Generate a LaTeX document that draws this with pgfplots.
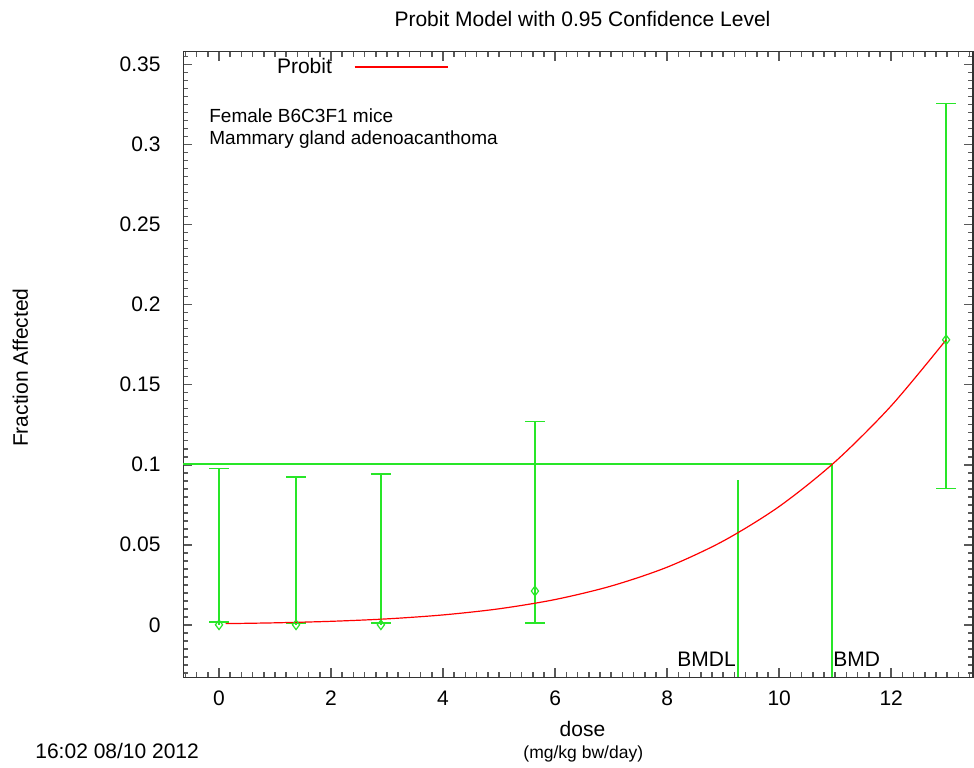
\documentclass[border=0pt]{standalone}
\usepackage{fontspec}
\setmainfont{Liberation Sans}
\usepackage{pgfplots}
\pgfplotsset{compat=1.18}
\definecolor{gpgreen}{RGB}{40,230,40}

\begin{document}
\begin{tikzpicture}[font=\fontsize{10.5bp}{12.6bp}\selectfont]
\begin{axis}[
  at={(0,0)}, anchor=south west,
  scale only axis, width=394.75bp, height=312.8bp,
  xmin=-0.634, xmax=13.46, ymin=-0.0328, ymax=0.358,
  xtick={0,2,4,6,8,10,12},
  ytick={0,0.05,0.1,0.15,0.2,0.25,0.3,0.35},
  minor xtick={-0.6,-0.4,...,13.45},
  minor ytick={-0.03,-0.025,...,0.356},
  xtick pos=both, ytick pos=both,
  tick align=inside, major tick length=4.5bp, minor tick length=2.5bp,
  xticklabel pos=left, yticklabel pos=left,
  axis line style={line width=0.8bp, black!80},
  tick style={line width=0.8bp, black!65},
  /pgf/number format/assume math mode=true,
  scaled y ticks=false,
  yticklabel={\pgfmathprintnumber[fixed,precision=2]{\tick}},
  xticklabel style={anchor=base, yshift=-14.1bp},
  yticklabel style={anchor=east, inner xsep=0pt, xshift=-11.25bp},
  legend style={at={(0.118,0.975)}, anchor=west, draw=none, fill=none,
    inner sep=0pt, legend plot pos=right, legend cell align=left,
    nodes={inner xsep=0pt, inner ysep=0pt}},
  clip=false,
]
% BMD / BMDL markers
\addplot[gpgreen, line width=0.8bp, forget plot] coordinates {(-0.634,0.1003) (10.94,0.1003)};
\addplot[gpgreen, line width=0.8bp, forget plot] coordinates {(10.94,0.1003) (10.94,-0.0328)};
\addplot[gpgreen, line width=0.8bp, forget plot] coordinates {(9.26,0.0903) (9.26,-0.0328)};

% observed fractions with confidence limits
\addplot[gpgreen, only marks, mark=diamond, mark size=2.4bp,
  mark options={solid, fill=white, line width=0.6bp}, forget plot,
  error bars/.cd, y dir=both, y explicit, error mark=-,
  error mark options={gpgreen, mark size=5bp, line width=0.7bp, rotate=90},
  error bar style={gpgreen, line width=0.8bp}]
  coordinates {
    (0,0)       += (0,0.0978) -= (0,-0.0018)
    (1.375,0)   += (0,0.0922) -= (0,-0.0011)
    (2.89,0)    += (0,0.0941) -= (0,-0.0011)
    (5.64,0.0211) += (0,0.1059) -= (0,0.0200)
    (12.98,0.178) += (0,0.1478) -= (0,0.0929)
  };

% fitted probit curve
\addplot[red, line width=0.6bp, smooth,
  legend image code/.code={\path (0bp,0bp); \draw[red, line width=1bp] (11bp,0bp) -- (57.5bp,0bp);}]
  coordinates {
  (0.12,0.00073) (1,0.00123) (2,0.00217) (3,0.00370) (4,0.00617)
  (5,0.0100) (6,0.01578) (7,0.0242) (8,0.0360) (9,0.0523)
  (10,0.0739) (11,0.1019) (12,0.1368) (12.98,0.1780)
};
\addlegendentry{Probit}

\node[anchor=base east, inner sep=0pt] at (axis cs:9.232,-0.0259) {BMDL};
\node[anchor=base west, inner sep=0pt] at (axis cs:10.959,-0.0259) {BMD};
\node[anchor=base west, inner sep=0pt, font=\fontsize{9.5bp}{11bp}\selectfont]
  at (axis cs:-0.179,0.314) {Female B6C3F1 mice};
\node[anchor=base west, inner sep=0pt, font=\fontsize{9.5bp}{11bp}\selectfont]
  at (axis cs:-0.179,0.3003) {Mammary gland adenoacanthoma};
\end{axis}

\node[anchor=base, inner sep=0pt] at (199.5bp,325.15bp) {Probit Model with 0.95 Confidence Level};
\node[anchor=base, inner sep=0pt, rotate=90] at (-77.75bp,154.75bp) {Fraction Affected};
\node[anchor=base, inner sep=0pt] at (199.5bp,-29.7bp) {dose};
\node[anchor=base, inner sep=0pt, font=\fontsize{8.75bp}{10bp}\selectfont] at (199.9bp,-40.5bp) {(mg/kg bw/day)};
\node[anchor=base west, inner sep=0pt] at (-74.25bp,-40.5bp) {16:02 08/10 2012};

\pgfresetboundingbox
\path[use as bounding box] (-91.75bp,-45.35bp) rectangle (395.25bp,338.65bp);
\end{tikzpicture}
\end{document}
